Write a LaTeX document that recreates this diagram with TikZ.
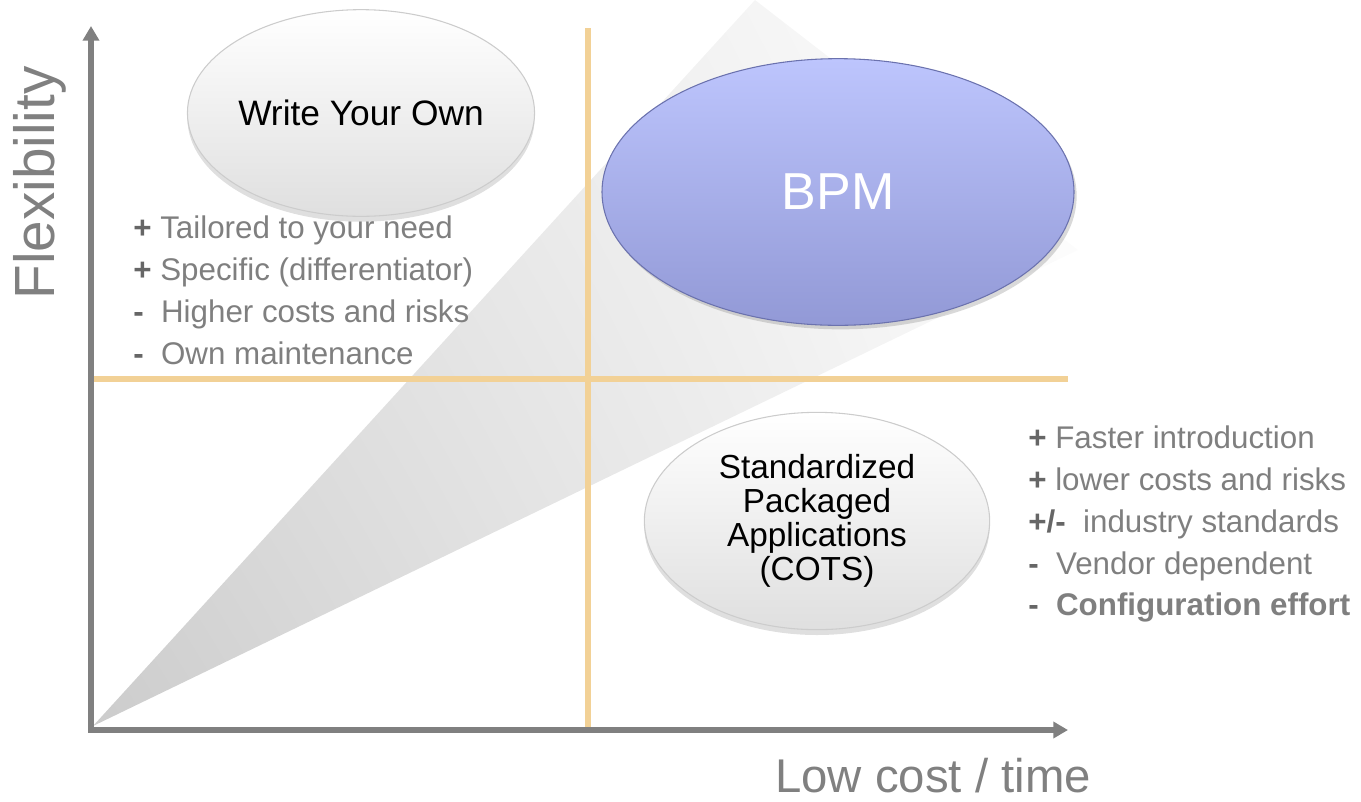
\documentclass[tikz,border=0pt]{standalone}
\usepackage{fontspec}
\setmainfont{Liberation Sans}
\usetikzlibrary{shapes.geometric,shadows,shadings,arrows.meta}
\definecolor{axisgray}{HTML}{808080}
\definecolor{gridorange}{HTML}{F2D196}
\definecolor{textgray}{HTML}{7F7F7F}
\definecolor{signgray}{HTML}{666666}
\definecolor{bpmtop}{HTML}{BDC5FD}
\definecolor{bpmbottom}{HTML}{9299D6}
\definecolor{bpmrim}{HTML}{6B72AE}
\begin{document}
\begin{tikzpicture}[x=0.75pt,y=-0.75pt,
  axis/.style={draw=axisgray,line width=4pt,-{Triangle[length=11pt,width=12pt]}},
  gridline/.style={draw=gridorange,line width=5pt},
  bubble/.style={ellipse,inner sep=0pt,draw=gray!40,line width=0.8pt,top color=white,bottom color=gray!25,
    drop shadow={opacity=0.25,shadow xshift=0pt,shadow yshift=-4pt}},
  pros/.style={anchor=north west,inner sep=0pt,align=left,text=textgray,font=\fontsize{23.5}{31.3}\selectfont},
  axislabel/.style={text=axisgray,inner sep=0pt}]
\useasboundingbox (0,0) rectangle (1361,801);
% corner points
\coordinate (origin) at (91,730);
\coordinate (ytop) at (91,26);
\coordinate (xend) at (1068,730);
\coordinate (apex) at (93,726);
\coordinate (wedgetop) at (755,0);
\coordinate (wedgeright) at (1078,250);
\coordinate (vtop) at (588,28);
\coordinate (vbottom) at (588,728);
\coordinate (hleft) at (93,379);
\coordinate (hright) at (1068,379);
% grey wedge
\shade[lower left=gray!40,lower right=gray!6,upper left=gray!24,upper right=white]
  (apex) -- (wedgetop) -- (wedgeright) -- cycle;
% quadrant lines
\draw[gridline] (vtop) -- (vbottom);
\draw[gridline] (hleft) -- (hright);
% axes
\draw[axis] ([yshift=2pt]origin) -- (ytop);
\draw[axis] ([xshift=-2pt]origin) -- (xend);
\node[axislabel,rotate=90,font=\fontsize{42.5}{45}\selectfont] (flex) at (40,183) {Flexibility};
\node[axislabel,font=\fontsize{35.5}{40}\selectfont] (cost) at (933,776) {Low cost / time};
% bubbles
\node[bubble,minimum width=250pt,minimum height=155pt,font=\fontsize{26.5}{30}\selectfont] (own) at (361,113) {Write Your Own};
\node[ellipse,inner sep=0pt,minimum width=354pt,minimum height=200pt,top color=bpmtop,bottom color=bpmbottom,
  draw=bpmrim,line width=0.8pt,drop shadow={opacity=0.3,shadow xshift=2pt,shadow yshift=-3pt},
  text=white,font=\fontsize{39}{45}\selectfont] (bpm) at (838,192) {BPM};
\node[bubble,minimum width=259pt,minimum height=163pt,align=center,font=\fontsize{25}{25.5}\selectfont] (cots) at (817,521)
  {Standardized\\Packaged\\Applications\\(COTS)};
% pros and cons
\node[pros] (ownlist) at (133,216) {\textcolor{signgray}{\textbf{+}} Tailored to your need\\
  \textcolor{signgray}{\textbf{+}} Specific (differentiator)\\
  \textcolor{signgray}{\textbf{-}}\ \ Higher costs and risks\\
  \textcolor{signgray}{\textbf{-}}\ \ Own maintenance};
\node[pros] (cotslist) at (1028,426) {\textcolor{signgray}{\textbf{+}} Faster introduction\\
  \textcolor{signgray}{\textbf{+}} lower costs and risks\\
  \textcolor{signgray}{\textbf{+/-}}\ \ industry standards\\
  \textcolor{signgray}{\textbf{-}}\ \ Vendor dependent\\
  \textcolor{signgray}{\textbf{-}}\ \ \textbf{Configuration effort}};
\end{tikzpicture}
\end{document}
